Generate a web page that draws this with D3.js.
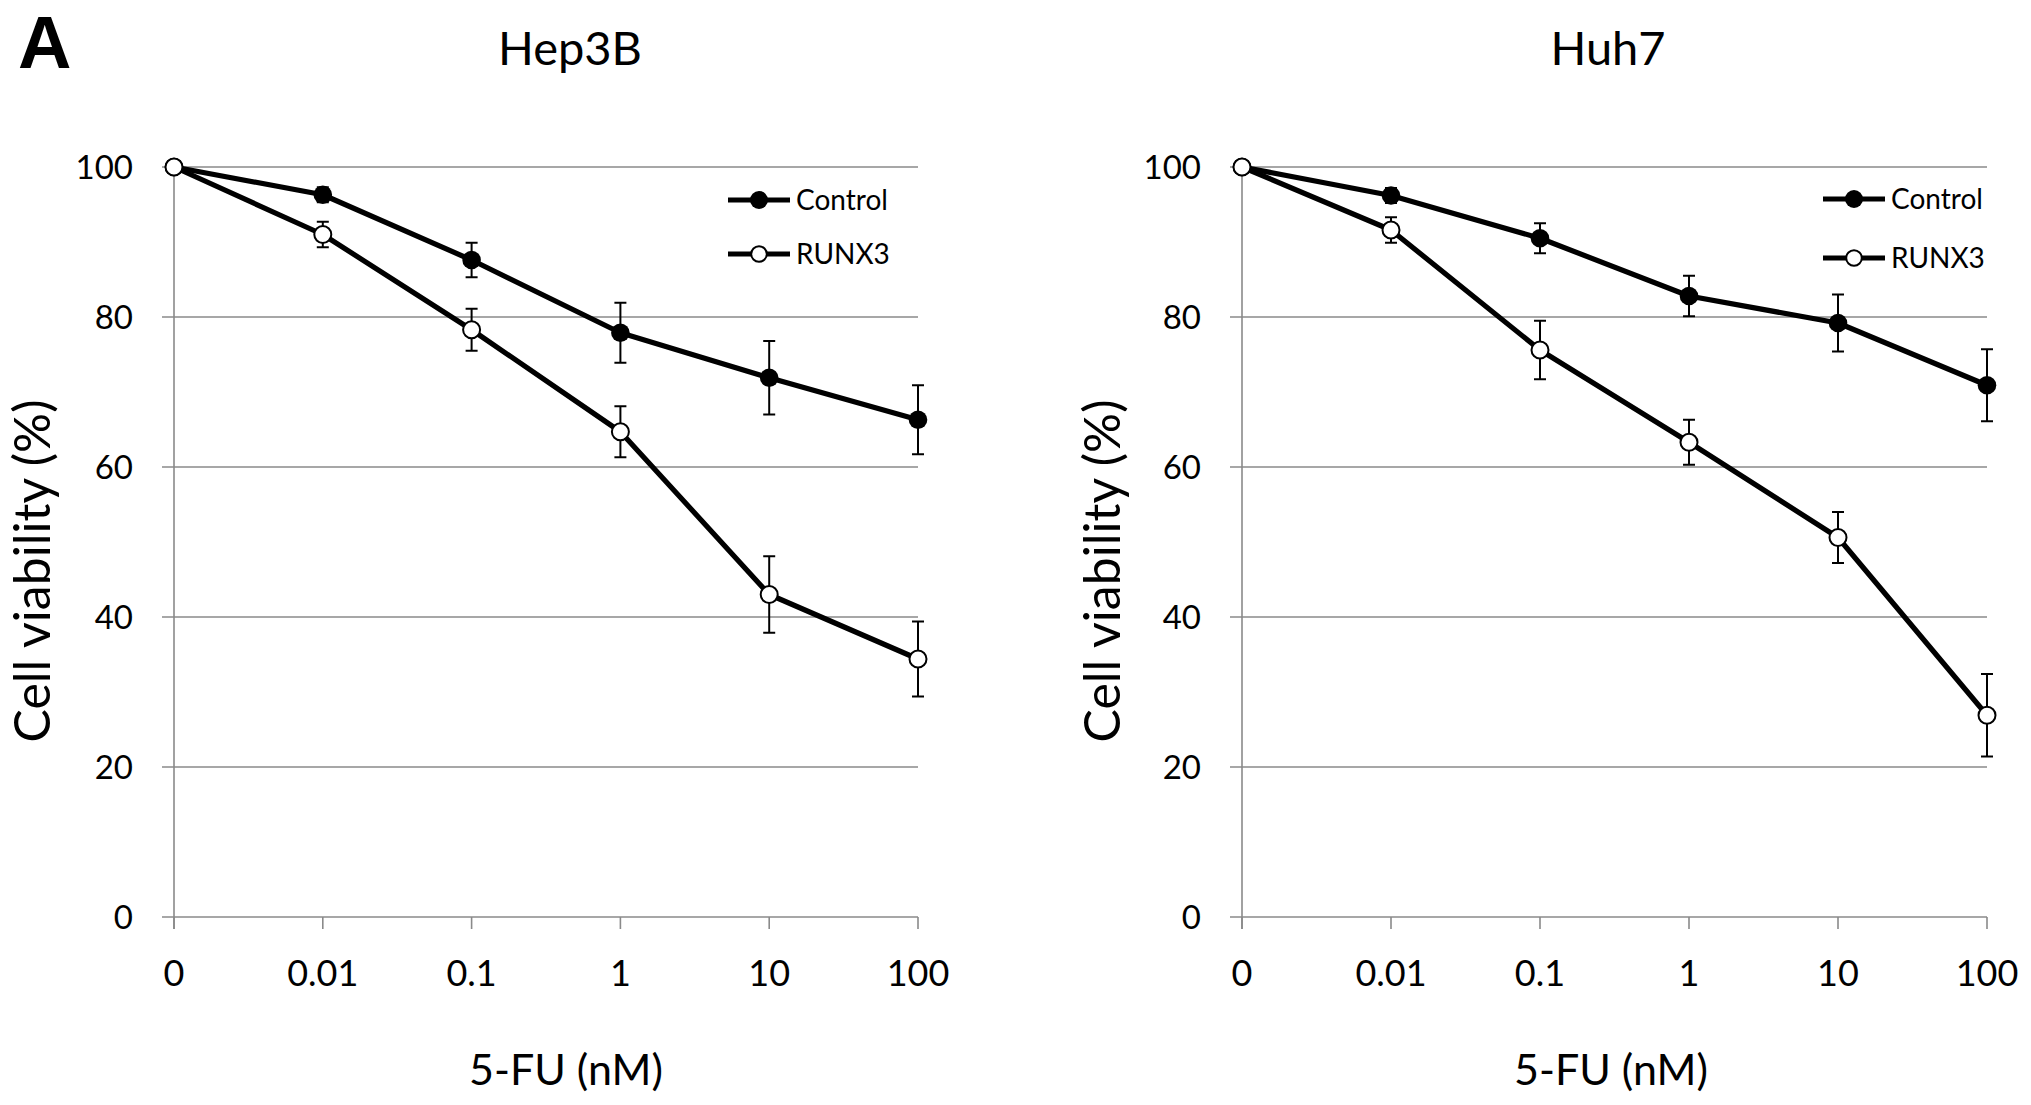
<!DOCTYPE html>
<meta charset="utf-8">
<head>
    <style>
        body {margin: 0; padding: 0; background: #fff;}
        svg {display: block;}
        text {font-family: Lato, "Open Sans", sans-serif; fill: #000;}
        .grid {stroke: #8a8a8a; stroke-width: 1.6;}
        .series {fill: none; stroke: #000; stroke-width: 5.2; stroke-linejoin: round;}
        .err {stroke: #000; stroke-width: 2;}
    </style>
    <script src="https://d3js.org/d3.v7.min.js"></script>
</head>
<body>
<script>
    // doses on the x axis (nM), shown as evenly spaced categories
    var doses = ["0", "0.01", "0.1", "1", "10", "100"];
    var yTicks = [0, 20, 40, 60, 80, 100];

    // Hep3B
    var hep3bControl    = [100, 96.3, 87.6, 77.9, 71.9, 66.3];
    var hep3bControlErr = [0, 1.0, 2.3, 4.0, 4.9, 4.6];
    var hep3bRunx3      = [100, 91.0, 78.3, 64.7, 43.0, 34.4];
    var hep3bRunx3Err   = [0, 1.7, 2.8, 3.4, 5.1, 5.0];

    // Huh7
    var huh7Control    = [100, 96.2, 90.5, 82.8, 79.2, 70.9];
    var huh7ControlErr = [0, 1.0, 2.0, 2.7, 3.8, 4.8];
    var huh7Runx3      = [100, 91.6, 75.6, 63.3, 50.6, 26.9];
    var huh7Runx3Err   = [0, 1.7, 3.9, 3.0, 3.4, 5.5];

    var seriesNames = ["Control", "RUNX3"];

    var panels = [
        {title: "Hep3B", left: 174, right: 918, titleX: 570, xLabelX: 566, yLabelX: 50,
         legendX: 759, legendY: [200, 254],
         series: [[hep3bControl, hep3bControlErr], [hep3bRunx3, hep3bRunx3Err]]},
        {title: "Huh7", left: 1242, right: 1987, titleX: 1608, xLabelX: 1611, yLabelX: 1120,
         legendX: 1854, legendY: [199, 258],
         series: [[huh7Control, huh7ControlErr], [huh7Runx3, huh7Runx3Err]]}
    ];

    var W = 2031, H = 1105,
        plotTop = 167, plotBottom = 917;

    var svg = d3.select("body").append("svg")
        .attr("width", W)
        .attr("height", H);

    svg.append("text")
        .attr("x", 18).attr("y", 68)
        .style("font-family", "'Liberation Sans', Arial, sans-serif")
        .style("font-weight", "bold")
        .style("font-size", "74px")
        .text("A");

    var y = d3.scaleLinear().domain([0, 100]).range([plotBottom, plotTop]);

    panels.forEach(function(p) {
        var x = d3.scalePoint().domain(doses).range([p.left, p.right]);
        var g = svg.append("g");

        // horizontal grid lines, with outward tick on the left
        g.selectAll(".gridline")
            .data(yTicks)
          .enter().append("line")
            .attr("class", "grid")
            .attr("x1", p.left - 12)
            .attr("x2", p.right)
            .attr("y1", function(d) {return y(d)})
            .attr("y2", function(d) {return y(d)});

        // y axis line
        g.append("line")
            .attr("class", "grid")
            .attr("x1", p.left).attr("x2", p.left)
            .attr("y1", y(100)).attr("y2", y(0) + 12);

        // x ticks
        g.selectAll(".xtick")
            .data(doses)
          .enter().append("line")
            .attr("class", "grid")
            .attr("x1", function(d) {return x(d)})
            .attr("x2", function(d) {return x(d)})
            .attr("y1", y(0))
            .attr("y2", y(0) + 12);

        g.selectAll(".ylab")
            .data(yTicks)
          .enter().append("text")
            .attr("x", p.left - 41)
            .attr("y", function(d) {return y(d)})
            .attr("dy", "0.36em")
            .attr("text-anchor", "end")
            .style("font-size", "33px")
            .text(function(d) {return d});

        g.selectAll(".xlab")
            .data(doses)
          .enter().append("text")
            .attr("x", function(d) {return x(d)})
            .attr("y", 986)
            .attr("text-anchor", "middle")
            .style("font-size", "36px")
            .text(function(d) {return d});

        g.append("text")
            .attr("x", p.titleX).attr("y", 65)
            .attr("text-anchor", "middle")
            .style("font-size", "47px")
            .text(p.title);

        g.append("text")
            .attr("x", p.xLabelX).attr("y", 1085)
            .attr("text-anchor", "middle")
            .style("font-size", "43px")
            .text("5-FU (nM)");

        g.append("text")
            .attr("transform", "translate(" + p.yLabelX + ",571) rotate(-90)")
            .attr("text-anchor", "middle")
            .style("font-size", "50px")
            .text("Cell viability (%)");

        var line = d3.line()
            .x(function(d, i) {return x(doses[i])})
            .y(function(d) {return y(d)});

        p.series.forEach(function(s) {
            g.append("path")
                .attr("class", "series")
                .attr("d", line(s[0]));
        });

        // error bars
        p.series.forEach(function(s) {
            var vals = s[0], errs = s[1];
            var eb = g.append("g");
            doses.forEach(function(dose, i) {
                if (!errs[i]) return;
                var cx = x(dose);
                eb.append("line").attr("class", "err")
                    .attr("x1", cx).attr("x2", cx)
                    .attr("y1", y(vals[i] + errs[i])).attr("y2", y(vals[i] - errs[i]));
                [vals[i] + errs[i], vals[i] - errs[i]].forEach(function(v) {
                    eb.append("line").attr("class", "err")
                        .attr("x1", cx - 6).attr("x2", cx + 6)
                        .attr("y1", y(v)).attr("y2", y(v));
                });
            });
        });

        // markers
        p.series.forEach(function(s, k) {
            g.selectAll(".m" + k)
                .data(s[0])
              .enter().append("circle")
                .attr("cx", function(d, i) {return x(doses[i])})
                .attr("cy", function(d) {return y(d)})
                .attr("r", k == 0 ? 9.3 : 8.5)
                .attr("fill", k == 0 ? "#000" : "#fff")
                .attr("stroke", "#000")
                .attr("stroke-width", k == 0 ? 0 : 2);
        });

        // legend
        seriesNames.forEach(function(name, k) {
            var ly = p.legendY[k];
            g.append("line")
                .attr("x1", p.legendX - 31).attr("x2", p.legendX + 31)
                .attr("y1", ly).attr("y2", ly)
                .attr("stroke", "#000").attr("stroke-width", 5);
            g.append("circle")
                .attr("cx", p.legendX).attr("cy", ly)
                .attr("r", k == 0 ? 9 : 7.8)
                .attr("fill", k == 0 ? "#000" : "#fff")
                .attr("stroke", "#000")
                .attr("stroke-width", k == 0 ? 0 : 2);
            g.append("text")
                .attr("x", p.legendX + 37).attr("y", ly)
                .attr("dy", "0.36em")
                .style("font-size", "28px")
                .text(name);
        });
    });
</script>
</body>
